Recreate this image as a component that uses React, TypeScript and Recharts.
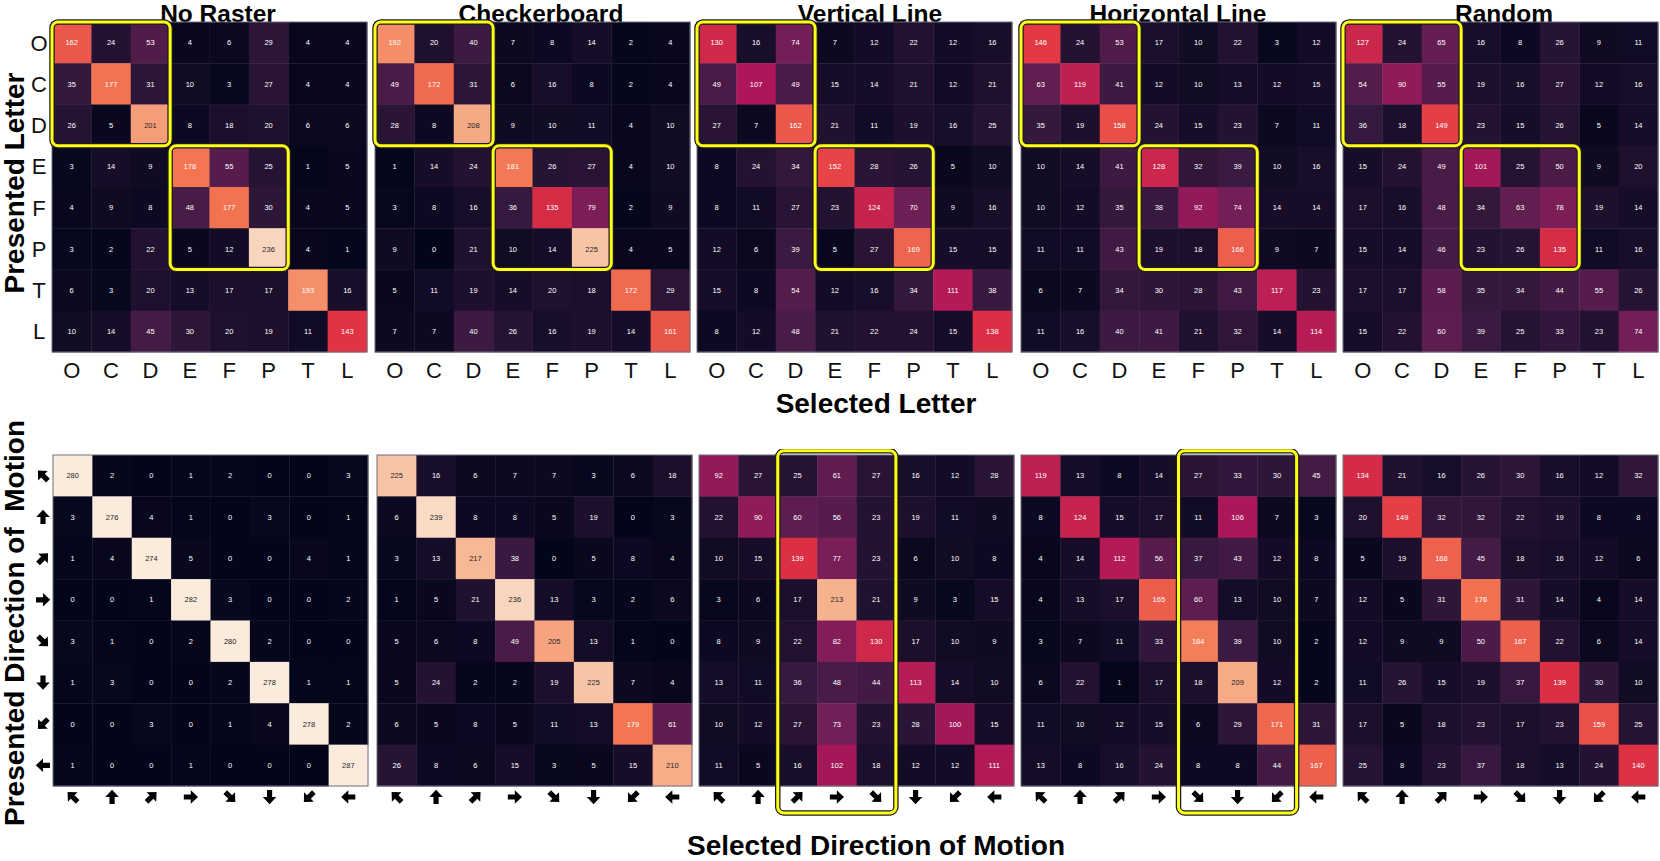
import React from 'react';
import { ScatterChart, Scatter, XAxis, YAxis } from 'recharts';

// ---------- labels ----------
const conditionTitles = ['No Raster', 'Checkerboard', 'Vertical Line', 'Horizontal Line', 'Random'];
const letterLabels = ['O', 'C', 'D', 'E', 'F', 'P', 'T', 'L'];
const directionLabels = ['↖', '↑', '↗', '→', '↘', '↓', '↙', '←'];
const directionAngles = [-135, -90, -45, 0, 45, 90, 135, 180];

// ---------- letter confusion matrices (rows: presented, cols: selected) ----------
const letterNoRaster = [
  [162, 24, 53, 4, 6, 29, 4, 4],
  [35, 177, 31, 10, 3, 27, 4, 4],
  [26, 5, 201, 8, 18, 20, 6, 6],
  [3, 14, 9, 178, 55, 25, 1, 5],
  [4, 9, 8, 48, 177, 30, 4, 5],
  [3, 2, 22, 5, 12, 236, 4, 1],
  [6, 3, 20, 13, 17, 17, 193, 16],
  [10, 14, 45, 30, 20, 19, 11, 143],
];
const letterCheckerboard = [
  [192, 20, 40, 7, 8, 14, 2, 4],
  [49, 172, 31, 6, 16, 8, 2, 4],
  [28, 8, 208, 9, 10, 11, 4, 10],
  [1, 14, 24, 181, 26, 27, 4, 10],
  [3, 8, 16, 36, 135, 79, 2, 9],
  [9, 0, 21, 10, 14, 225, 4, 5],
  [5, 11, 19, 14, 20, 18, 172, 29],
  [7, 7, 40, 26, 16, 19, 14, 161],
];
const letterVertical = [
  [130, 16, 74, 7, 12, 22, 12, 16],
  [49, 107, 49, 15, 14, 21, 12, 21],
  [27, 7, 162, 21, 11, 19, 16, 25],
  [8, 24, 34, 152, 28, 26, 5, 10],
  [8, 11, 27, 23, 124, 70, 9, 16],
  [12, 6, 39, 5, 27, 169, 15, 15],
  [15, 8, 54, 12, 16, 34, 111, 38],
  [8, 12, 48, 21, 22, 24, 15, 138],
];
const letterHorizontal = [
  [146, 24, 53, 17, 10, 22, 3, 12],
  [63, 119, 41, 12, 10, 13, 12, 15],
  [35, 19, 158, 24, 15, 23, 7, 11],
  [10, 14, 41, 128, 32, 39, 10, 16],
  [10, 12, 35, 38, 92, 74, 14, 14],
  [11, 11, 43, 19, 18, 166, 9, 7],
  [6, 7, 34, 30, 28, 43, 117, 23],
  [11, 16, 40, 41, 21, 32, 14, 114],
];
const letterRandom = [
  [127, 24, 65, 16, 8, 26, 9, 11],
  [54, 90, 55, 19, 16, 27, 12, 16],
  [36, 18, 149, 23, 15, 26, 5, 14],
  [15, 24, 49, 101, 25, 50, 9, 20],
  [17, 16, 48, 34, 63, 78, 19, 14],
  [15, 14, 46, 23, 26, 135, 11, 16],
  [17, 17, 58, 35, 34, 44, 55, 26],
  [15, 22, 60, 39, 25, 33, 23, 74],
];

// ---------- direction confusion matrices ----------
const motionNoRaster = [
  [280, 2, 0, 1, 2, 0, 0, 3],
  [3, 276, 4, 1, 0, 3, 0, 1],
  [1, 4, 274, 5, 0, 0, 4, 1],
  [0, 0, 1, 282, 3, 0, 0, 2],
  [3, 1, 0, 2, 280, 2, 0, 0],
  [1, 3, 0, 0, 2, 278, 1, 1],
  [0, 0, 3, 0, 1, 4, 278, 2],
  [1, 0, 0, 1, 0, 0, 0, 287],
];
const motionCheckerboard = [
  [225, 16, 6, 7, 7, 3, 6, 18],
  [6, 239, 8, 8, 5, 19, 0, 3],
  [3, 13, 217, 38, 0, 5, 8, 4],
  [1, 5, 21, 236, 13, 3, 2, 6],
  [5, 6, 8, 49, 205, 13, 1, 0],
  [5, 24, 2, 2, 19, 225, 7, 4],
  [6, 5, 8, 5, 11, 13, 179, 61],
  [26, 8, 6, 15, 3, 5, 15, 210],
];
const motionVertical = [
  [92, 27, 25, 61, 27, 16, 12, 28],
  [22, 90, 60, 56, 23, 19, 11, 9],
  [10, 15, 139, 77, 23, 6, 10, 8],
  [3, 6, 17, 213, 21, 9, 3, 15],
  [8, 9, 22, 82, 130, 17, 10, 9],
  [13, 11, 36, 48, 44, 113, 14, 10],
  [10, 12, 27, 73, 23, 28, 100, 15],
  [11, 5, 16, 102, 18, 12, 12, 111],
];
const motionHorizontal = [
  [119, 13, 8, 14, 27, 33, 30, 45],
  [8, 124, 15, 17, 11, 106, 7, 3],
  [4, 14, 112, 56, 37, 43, 12, 8],
  [4, 13, 17, 165, 60, 13, 10, 7],
  [3, 7, 11, 33, 184, 39, 10, 2],
  [6, 22, 1, 17, 18, 209, 12, 2],
  [11, 10, 12, 15, 6, 29, 171, 31],
  [13, 8, 16, 24, 8, 8, 44, 167],
];
const motionRandom = [
  [134, 21, 16, 26, 30, 16, 12, 32],
  [20, 149, 32, 32, 22, 19, 8, 8],
  [5, 19, 168, 45, 18, 16, 12, 6],
  [12, 5, 31, 176, 31, 14, 4, 14],
  [12, 9, 9, 50, 167, 22, 6, 14],
  [11, 26, 15, 19, 37, 139, 30, 10],
  [17, 5, 18, 23, 17, 23, 159, 25],
  [25, 8, 23, 37, 18, 13, 24, 140],
];

const letterMatrices = [letterNoRaster, letterCheckerboard, letterVertical, letterHorizontal, letterRandom];
const motionMatrices = [motionNoRaster, motionCheckerboard, motionVertical, motionHorizontal, motionRandom];

// highlight boxes [x1, x2, y1, y2] in cell units
const letterBoxes = [
  [0, 3, 0, 3],
  [3, 6, 3, 6],
];
const motionBoxes = [[], [], [[2, 5, -0.1, 8.65]], [[4, 7, -0.1, 8.65]], []];

const VMAX = 250;

// ---------- colormap (rocket) ----------
const ROCKET: [number, string][] = [
  [0, '#03051a'],
  [1 / 7, '#35193e'],
  [2 / 7, '#701f57'],
  [3 / 7, '#ad1759'],
  [4 / 7, '#e13342'],
  [5 / 7, '#f37651'],
  [6 / 7, '#f6b48f'],
  [1, '#faebdd'],
];
const hexToRgb = (h: string) => [1, 3, 5].map((i) => parseInt(h.slice(i, i + 2), 16));
function rocketRgb(t: number) {
  const v = Math.max(0, Math.min(1, t));
  for (let i = 0; i < ROCKET.length - 1; i++) {
    const [a, ca] = ROCKET[i];
    const [b, cb] = ROCKET[i + 1];
    if (v <= b) {
      const f = (v - a) / (b - a);
      const A = hexToRgb(ca);
      const B = hexToRgb(cb);
      return A.map((c, k) => Math.round(c + (B[k] - c) * f));
    }
  }
  return hexToRgb(ROCKET[ROCKET.length - 1][1]);
}
function lum(rgb: number[]) {
  const c = rgb.map((x) => {
    const s = x / 255;
    return s <= 0.03928 ? s / 12.92 : Math.pow((s + 0.055) / 1.055, 2.4);
  });
  return 0.2126 * c[0] + 0.7152 * c[1] + 0.0722 * c[2];
}

// ---------- layout ----------
const PW = 315;
const TOP_LEFTS = [52, 375, 697, 1021, 1343];
const BOT_LEFTS = [53, 377, 699, 1021, 1343];
const TOP_TOP = 22;
const TOP_PH = 330;
const BOT_TOP = 455;
const BOT_PH = 331;
const TITLE_CENTERS = [218, 541, 870, 1178, 1504];
const FONT = '"Liberation Sans", Arial, Helvetica, sans-serif';
const TICK_VALUES = [0.5, 1.5, 2.5, 3.5, 4.5, 5.5, 6.5, 7.5];

const arrowPath = 'M-7,-2.6 L0,-2.6 L0,-6.8 L7.2,0 L0,6.8 L0,2.6 L-7,2.6 Z';

const LetterTick = (props: any) => {
  const { x, y, payload } = props;
  return (
    <text x={x} y={y} dy="0.36em" textAnchor="middle" fontSize={22} fontFamily={FONT} fill="#111">
      {letterLabels[Math.floor(payload.value)]}
    </text>
  );
};
const ArrowTick = (props: any) => {
  const { x, y, payload } = props;
  const idx = Math.floor(payload.value);
  return (
    <g transform={`translate(${x},${y}) rotate(${directionAngles[idx]})`}>
      <title>{directionLabels[idx]}</title>
      <path d={arrowPath} fill="#000" />
    </g>
  );
};

const makeCellShape = (cw: number, ch: number) => (props: any) => {
  const { cx, cy, payload } = props;
  if (cx == null || cy == null) return <g />;
  const rgb = rocketRgb(payload.v / VMAX);
  const fill = `rgb(${rgb[0]},${rgb[1]},${rgb[2]})`;
  const tc = lum(rgb) > 0.408 ? '#262626' : '#ffffff';
  return (
    <g>
      <rect x={cx - cw / 2} y={cy - ch / 2} width={cw + 0.4} height={ch + 0.4} fill={fill} />
      <text x={cx} y={cy} dy="0.35em" textAnchor="middle" fontSize={7.5} fontFamily={FONT} fill={tc}>
        {payload.v}
      </text>
    </g>
  );
};

// overlay frames (heatmap border + highlight boxes), positioned by their centre via the scales
const makeFrameShape = (cw: number, ch: number) => (props: any) => {
  const { cx, cy, payload } = props;
  if (cx == null || cy == null) return <g />;
  const w = payload.w * cw;
  const h = payload.h * ch;
  const x = cx - w / 2;
  const y = cy - h / 2;
  if (payload.border) {
    return <rect x={x} y={y} width={w} height={h} fill="none" stroke="#6e6e7e" strokeWidth={1} />;
  }
  return (
    <g>
      <rect x={x} y={y} width={w} height={h} rx={6} ry={6} fill="none" stroke="#1c1c1c" strokeWidth={5.5} />
      <rect x={x} y={y} width={w} height={h} rx={6} ry={6} fill="none" stroke="#ffff1a" strokeWidth={3} />
    </g>
  );
};

function Heatmap(props: {
  matrix: number[][];
  plotLeft: number;
  plotTop: number;
  ph: number;
  showY: boolean;
  kind: 'letter' | 'motion';
  boxes: number[][];
}) {
  const { matrix, plotLeft, plotTop, ph, showY, kind, boxes } = props;
  const MT = 6;
  const MB = 2;
  const MR = 4;
  const XH = 42;
  const marginLeft = showY ? 0 : 4;
  const yW = showY ? plotLeft - 27 : 0;
  const width = marginLeft + yW + PW + MR;
  const height = MT + ph + XH + MB;
  const left = plotLeft - marginLeft - yW;
  const top = plotTop - MT;
  const cells = matrix.flatMap((row, i) => row.map((v, j) => ({ x: j + 0.5, y: i + 0.5, v })));
  const frames = [
    { x: 4, y: 4, w: 8, h: 8, border: true },
    ...boxes.map((b) => ({ x: (b[0] + b[1]) / 2, y: (b[2] + b[3]) / 2, w: b[1] - b[0], h: b[3] - b[2], border: false })),
  ];
  const Tick = kind === 'letter' ? LetterTick : ArrowTick;
  return (
    <div style={{ position: 'absolute', left, top, width, height }}>
      <ScatterChart width={width} height={height} margin={{ top: MT, right: MR, bottom: MB, left: marginLeft }}>
        <XAxis
          type="number"
          dataKey="x"
          domain={[0, 8]}
          ticks={TICK_VALUES}
          interval={0}
          axisLine={false}
          tickLine={false}
          tickSize={0}
          tickMargin={kind === 'letter' ? 18 : 11}
          height={XH}
          tick={Tick}
        />
        <YAxis
          type="number"
          dataKey="y"
          domain={[0, 8]}
          reversed
          ticks={TICK_VALUES}
          interval={0}
          hide={!showY}
          width={yW}
          axisLine={false}
          tickLine={false}
          tickSize={0}
          tickMargin={kind === 'letter' ? 13 : 10}
          tick={Tick}
        />
        <Scatter data={cells} isAnimationActive={false} shape={makeCellShape(PW / 8, ph / 8)} />
        <Scatter data={frames} isAnimationActive={false} shape={makeFrameShape(PW / 8, ph / 8)} />
      </ScatterChart>
    </div>
  );
}

export default function App() {
  return (
    <div style={{ position: 'absolute', left: 0, top: 0, width: 1660, height: 861, overflow: 'hidden', background: '#fff' }}>
      <svg width={1660} height={861} style={{ position: 'absolute', left: 0, top: 0 }}>
        {conditionTitles.map((t, i) => (
          <text key={t} x={TITLE_CENTERS[i]} y={21.5} textAnchor="middle" fontSize={24.5} fontWeight="bold" fontFamily={FONT} fill="#000">
            {t}
          </text>
        ))}
        <text x={876} y={413} textAnchor="middle" fontSize={28} fontWeight="bold" fontFamily={FONT} fill="#000">
          Selected Letter
        </text>
        <text x={876} y={855} textAnchor="middle" fontSize={28} fontWeight="bold" fontFamily={FONT} fill="#000">
          Selected Direction of Motion
        </text>
        <text
          x={0}
          y={0}
          transform="translate(24,183) rotate(-90)"
          textAnchor="middle"
          fontSize={28}
          fontWeight="bold"
          fontFamily={FONT}
          fill="#000"
        >
          Presented Letter
        </text>
        <text
          x={0}
          y={0}
          transform="translate(24,623) rotate(-90)"
          textAnchor="middle"
          fontSize={28}
          fontWeight="bold"
          fontFamily={FONT}
          fill="#000"
          style={{ whiteSpace: 'pre' }}
        >
          {'Presented Direction of  Motion'}
        </text>
      </svg>
      {letterMatrices.map((m, i) => (
        <Heatmap
          key={`l${i}`}
          matrix={m}
          plotLeft={TOP_LEFTS[i]}
          plotTop={TOP_TOP}
          ph={TOP_PH}
          showY={i === 0}
          kind="letter"
          boxes={letterBoxes}
        />
      ))}
      {motionMatrices.map((m, i) => (
        <Heatmap
          key={`m${i}`}
          matrix={m}
          plotLeft={BOT_LEFTS[i]}
          plotTop={BOT_TOP}
          ph={BOT_PH}
          showY={i === 0}
          kind="motion"
          boxes={motionBoxes[i]}
        />
      ))}
    </div>
  );
}
